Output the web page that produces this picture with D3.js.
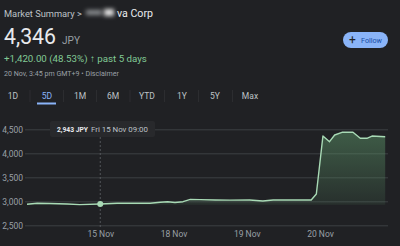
<!DOCTYPE html>
<html>
<head>
<meta charset="utf-8">
<script src="https://cdn.jsdelivr.net/npm/d3@7"></script>
<style>
  html, body { margin: 0; padding: 0; background: #202124; }
  svg { display: block; font-family: Roboto, Arial, sans-serif; }
</style>
</head>
<body>
<svg id="chart" width="400" height="246"></svg>
<script>
/* 5 day price chart, dark theme */

// session position (0 = first session open, 1 = 15 Nov open, ...) and price
const sessionPos = [0, 0.14, 0.31, 0.55, 0.72, 1.0, 1.23, 1.54, 1.68, 1.82, 1.92, 2.02, 2.13, 2.23, 2.36,
  2.57, 2.77, 3.04, 3.22, 3.36, 3.73, 3.88, 3.95, 4.04, 4.13, 4.20, 4.30, 4.45, 4.55, 4.64, 4.71, 4.89];
const prices = [2938, 2958, 2955, 2944, 2930, 2943, 2958, 2958, 2960, 2979, 2990, 2975, 2992, 3040, 3035,
  3027, 3025, 3027, 3006, 3027, 3027, 3027, 3152, 4360, 4242, 4381, 4437, 4437, 4312, 4312, 4360, 4346];

const dayTicks = [1, 2, 3, 4];
const dayLabels = ["15 Nov", "18 Nov", "19 Nov", "20 Nov"];
const priceTicks = [2500, 3000, 3500, 4000, 4500];
const rangeTabs = ["1D", "5D", "1M", "6M", "YTD", "1Y", "5Y", "Max"];
const prevClose = 2926;
const hoverIndex = 5;

const data = sessionPos.map((p, i) => ({ pos: p, price: prices[i] }));

const svg = d3.select("#chart");
const defs = svg.append("defs");
svg.append("rect").attr("width", 400).attr("height", 246).attr("fill", "#202124");

// shrink / grow a text so it spans a given width
fit = (sel, w) => {
  const len = sel.node().getComputedTextLength();
  const fs = parseFloat(sel.attr("font-size"));
  if (len > 0) sel.attr("font-size", (fs * w / len).toFixed(2) + "px");
  return sel;
}

/*** header */
fit(svg.append("text").attr("x", 4).attr("y", 17).attr("font-size", "11.5px").attr("fill", "#bdc1c6")
  .text("Market Summary >"), 78);

// blurred part of the name
const blur = defs.append("filter").attr("id", "blur")
  .attr("x", "-50%").attr("y", "-100%").attr("width", "200%").attr("height", "300%");
blur.append("feGaussianBlur").attr("stdDeviation", 2);
svg.append("rect").attr("x", 86).attr("y", 10).attr("width", 16).attr("height", 5)
  .attr("fill", "#8a8d91").attr("filter", "url(#blur)");
svg.append("rect").attr("x", 104).attr("y", 9).attr("width", 10).attr("height", 7)
  .attr("fill", "#e0e0e0").attr("filter", "url(#blur)");
fit(svg.append("text").attr("x", 117).attr("y", 17).attr("font-size", "11.5px").attr("fill", "#e8eaed")
  .text("va Corp"), 36);

fit(svg.append("text").attr("x", 4).attr("y", 44).attr("font-size", "20px").attr("fill", "#e8eaed")
  .text("4,346"), 52);
fit(svg.append("text").attr("x", 62).attr("y", 44).attr("font-size", "10.5px").attr("fill", "#9aa0a6")
  .text("JPY"), 18);

fit(svg.append("text").attr("x", 4).attr("y", 62).attr("font-size", "11px").attr("fill", "#81c995")
  .text("+1,420.00 (48.53%) \u2191 past 5 days"), 143);

fit(svg.append("text").attr("x", 4).attr("y", 76).attr("font-size", "7.5px").attr("fill", "#9aa0a6")
  .text("20 Nov, 3:45 pm GMT+9 \u2022 Disclaimer"), 115);

// follow button
svg.append("rect").attr("x", 343).attr("y", 32).attr("width", 45).attr("height", 16).attr("rx", 8)
  .attr("fill", "#8ab4f8");
svg.append("text").attr("x", 349).attr("y", 44).attr("font-size", "12px").attr("fill", "#202124")
  .text("+");
fit(svg.append("text").attr("x", 361).attr("y", 43).attr("font-size", "8.5px").attr("fill", "#174ea6")
  .text("Follow"), 21);

/*** range tabs */
const tabX = [13, 47, 80, 113, 147, 182, 215, 250];
const tabs = svg.append("g").attr("font-size", "8.5px").attr("text-anchor", "middle");
rangeTabs.forEach((t, i) => {
  tabs.append("text").attr("x", tabX[i]).attr("y", 99)
    .attr("fill", i === 1 ? "#8ab4f8" : "#bdc1c6").text(t);
  if (i > 0) {
    tabs.append("line").attr("x1", (tabX[i - 1] + tabX[i]) / 2).attr("x2", (tabX[i - 1] + tabX[i]) / 2)
      .attr("y1", 90).attr("y2", 102).attr("stroke", "#2c2d30");
  }
});
svg.append("rect").attr("x", 37).attr("y", 102.5).attr("width", 19).attr("height", 2).attr("fill", "#8ab4f8");

/*** scales */
const x = d3.scaleLinear().domain([0, 5]).range([27, 393.25]);
const y = d3.scaleLinear().domain([2500, 4500]).range([225.3, 129.3]);
const gridLeft = 25, gridRight = 388;

const yAxis = g => g
  .attr("transform", `translate(${gridLeft},0)`)
  .call(d3.axisLeft(y).tickValues(priceTicks).tickFormat(d3.format(",")).tickSize(-(gridRight - gridLeft)).tickPadding(2))
  .call(g => g.select(".domain").remove())
  .call(g => g.selectAll(".tick line").attr("stroke", "#3c4043"))
  .call(g => g.selectAll(".tick text").attr("fill", "#9aa0a6").attr("font-size", "8.5px")
    .attr("font-family", "Roboto, Arial, sans-serif"));

const xAxis = g => g
  .attr("transform", `translate(0,229)`)
  .call(d3.axisBottom(x).tickValues(dayTicks).tickFormat((d, i) => dayLabels[i]).tickSize(0).tickPadding(2))
  .call(g => g.select(".domain").remove())
  .call(g => g.selectAll(".tick text").attr("fill", "#9aa0a6").attr("font-size", "8.5px")
    .attr("font-family", "Roboto, Arial, sans-serif"));

svg.append("g").call(yAxis);
svg.append("g").call(xAxis);

/*** area + line */
const grad = defs.append("linearGradient").attr("id", "fillGrad")
  .attr("gradientUnits", "userSpaceOnUse")
  .attr("x1", 0).attr("x2", 0).attr("y1", y(4500)).attr("y2", y(prevClose));
grad.append("stop").attr("offset", 0).attr("stop-color", "#5f9a6c").attr("stop-opacity", 0.5);
grad.append("stop").attr("offset", 1).attr("stop-color", "#5f9a6c").attr("stop-opacity", 0.12);

svg.append("path").datum(data)
  .attr("fill", "url(#fillGrad)")
  .attr("d", d3.area().x(d => x(d.pos)).y0(y(prevClose)).y1(d => y(d.price)));

svg.append("path").datum(data)
  .attr("fill", "none")
  .attr("stroke", "#a8dab5")
  .attr("stroke-width", 1.4)
  .attr("stroke-linejoin", "round")
  .attr("d", d3.line().x(d => x(d.pos)).y(d => y(d.price)));

/*** hover tooltip */
const hov = data[hoverIndex];
svg.append("line").attr("x1", x(hov.pos)).attr("x2", x(hov.pos)).attr("y1", 137).attr("y2", 228)
  .attr("stroke", "#5f6368").attr("stroke-width", 0.8).attr("stroke-dasharray", "2,2");
svg.append("circle").attr("cx", x(hov.pos)).attr("cy", y(hov.price)).attr("r", 3)
  .attr("fill", "#a8dab5");

svg.append("rect").attr("x", 50).attr("y", 121).attr("width", 105).attr("height", 16).attr("rx", 2)
  .attr("fill", "#28292c");
fit(svg.append("text").attr("x", 57).attr("y", 132).attr("font-size", "8px").attr("font-weight", "bold")
  .attr("fill", "#e8eaed").text(d3.format(",")(hov.price) + " JPY"), 31);
fit(svg.append("text").attr("x", 91).attr("y", 132).attr("font-size", "8px")
  .attr("fill", "#bdc1c6").text("Fri 15 Nov 09:00"), 57);
</script>
</body>
</html>
